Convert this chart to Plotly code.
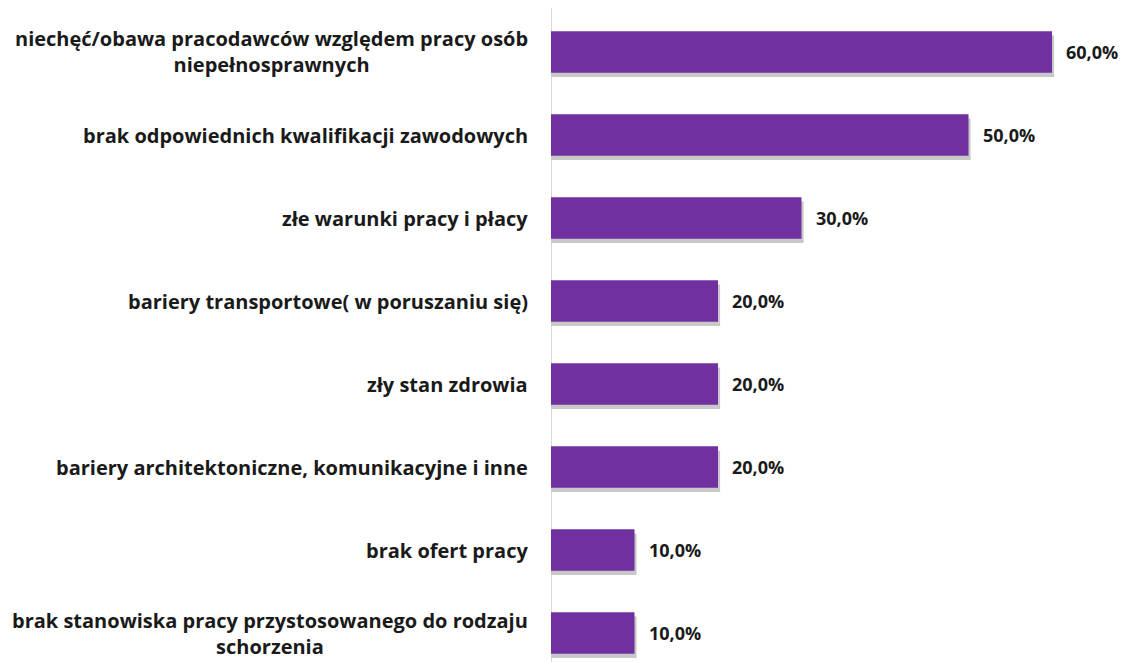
import plotly.graph_objects as go

categories = [
    "niechęć/obawa pracodawców względem pracy osób<br>niepełnosprawnych",
    "brak odpowiednich kwalifikacji zawodowych",
    "złe warunki pracy i płacy",
    "bariery transportowe( w poruszaniu się)",
    "zły stan zdrowia",
    "bariery architektoniczne, komunikacyjne i inne",
    "brak ofert pracy",
    "brak stanowiska pracy przystosowanego do rodzaju<br>schorzenia",
]
values = [60.0, 50.0, 30.0, 20.0, 20.0, 20.0, 10.0, 10.0]
value_labels = ["60,0%", "50,0%", "30,0%", "20,0%", "20,0%", "20,0%", "10,0%", "10,0%"]

FONT = "Open Sans"
idx = list(range(len(categories)))

fig = go.Figure()
# shadow
fig.add_trace(go.Bar(
    y=idx, x=[v + 0.25 for v in values], orientation="h", width=0.5, offset=-0.2,
    marker=dict(color="#C8C8C8", line=dict(width=0)), hoverinfo="skip", showlegend=False,
))
fig.add_trace(go.Bar(
    y=idx, x=values, orientation="h", width=0.5, offset=-0.25,
    marker=dict(color="#7030A0", line=dict(width=0)), showlegend=False,
))

annotations = []
for i, (c, v, t) in enumerate(zip(categories, values, value_labels)):
    annotations.append(dict(
        x=-0.036, xref="paper", y=i, yref="y", text=c, showarrow=False,
        xanchor="right", yanchor="middle", align="center",
        font=dict(family=FONT, size=20, color="#1a1a1a", weight="bold"),
    ))
    annotations.append(dict(
        x=v, xref="x", y=i, yref="y", text=t, showarrow=False,
        xanchor="left", yanchor="middle", xshift=12,
        font=dict(family=FONT, size=18, color="#1a1a1a", weight="bold"),
    ))

fig.update_layout(
    width=1122, height=654,
    margin=dict(l=543, r=0, t=0, b=0),
    paper_bgcolor="white", plot_bgcolor="white",
    barmode="overlay",
    xaxis=dict(range=[0, 69.34], visible=False, fixedrange=True),
    yaxis=dict(range=[7.349, -0.530], showticklabels=False, showgrid=False,
               zeroline=False, showline=False, ticks=""),
    shapes=[dict(type="line", xref="x", yref="paper", x0=0, x1=0, y0=0, y1=1,
                 line=dict(color="#D9D9D9", width=2), layer="below")],
    annotations=annotations,
)

fig.write_html("out.html")
